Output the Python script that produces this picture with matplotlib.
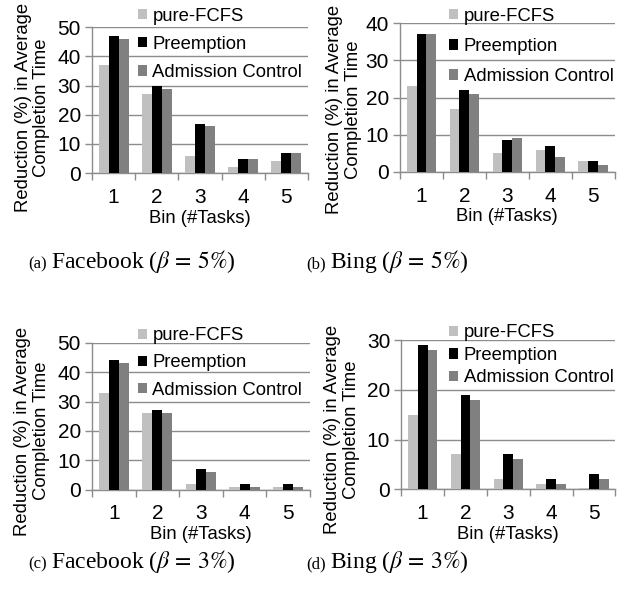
import matplotlib.pyplot as plt
import numpy as np

plt.rcParams['font.family'] = ['Liberation Sans', 'DejaVu Sans']
plt.rcParams['mathtext.fontset'] = 'stix'

bins = ['1', '2', '3', '4', '5']
series = ['pure-FCFS', 'Preemption', 'Admission Control']
colors = ['#c0c0c0', '#000000', '#808080']

fb5_fcfs = [37, 27, 6, 2, 4]
fb5_preempt = [47, 30, 17, 5, 7]
fb5_admit = [46, 29, 16, 5, 7]

bing5_fcfs = [23, 17, 5, 6, 3]
bing5_preempt = [37, 22, 8.5, 7, 3]
bing5_admit = [37, 21, 9, 4, 2]

fb3_fcfs = [33, 26, 2, 1, 1]
fb3_preempt = [44, 27, 7, 2, 2]
fb3_admit = [43, 26, 6, 1, 1]

bing3_fcfs = [15, 7, 2, 1, 0.3]
bing3_preempt = [29, 19, 7, 2, 3]
bing3_admit = [28, 18, 6, 1, 2]

panels = [
    dict(data=[fb5_fcfs, fb5_preempt, fb5_admit], ymax=50, step=10,
         rect=[0.147, 0.708, 0.345, 0.246], leg=(0.220, 0.987), lsp=0.6,
         ylab=(-0.195, 0.45), cap='(a)', name='Facebook ($\\beta\\,=\\,5\\%$)',
         capx=(47, 51), capy=268),
    dict(data=[bing5_fcfs, bing5_preempt, bing5_admit], ymax=40, step=10,
         rect=[0.639, 0.710, 0.343, 0.251], leg=(0.717, 0.987), lsp=0.72,
         ylab=(-0.178, 0.42), cap='(b)', name='Bing ($\\beta\\,=\\,5\\%$)',
         capx=(326, 330), capy=268),
    dict(data=[fb3_fcfs, fb3_preempt, fb3_admit], ymax=50, step=10,
         rect=[0.147, 0.174, 0.348, 0.248], leg=(0.220, 0.448), lsp=0.55,
         ylab=(-0.195, 0.40), cap='(c)', name='Facebook ($\\beta\\,=\\,3\\%$)',
         capx=(47, 51), capy=568),
    dict(data=[bing3_fcfs, bing3_preempt, bing3_admit], ymax=30, step=10,
         rect=[0.641, 0.175, 0.342, 0.251], leg=(0.717, 0.453), lsp=0.3,
         ylab=(-0.195, 0.40), cap='(d)', name='Bing ($\\beta\\,=\\,3\\%$)',
         capx=(326, 330), capy=568),
]

W, H = 626, 593
fig = plt.figure(figsize=(W / 100, H / 100), dpi=100)
x = np.arange(1, len(bins) + 1)
width = 0.23
spine_c = '#8c8c8c'

for p in panels:
    ax = fig.add_axes(p['rect'])
    for i, (vals, name, col) in enumerate(zip(p['data'], series, colors)):
        ax.bar(x + (i - 1) * width, vals, width, color=col, label=name, zorder=3)
    ax.set_xlim(0.5, 5.5)
    ax.set_ylim(0, p['ymax'])
    ax.set_yticks(np.arange(0, p['ymax'] + 1, p['step']))
    ax.set_xticks(x)
    ax.set_xticklabels(bins)
    ax.set_xticks(np.arange(0.5, 5.6, 1), minor=True)
    ax.tick_params(axis='x', which='major', length=0, pad=10.5, labelsize=15)
    ax.tick_params(axis='x', which='minor', length=5, color=spine_c, width=1)
    ax.tick_params(axis='y', length=5, color=spine_c, width=1, labelsize=15, pad=3)
    ax.grid(axis='y', color=spine_c, linewidth=1, zorder=0)
    for s in ['top', 'right']:
        ax.spines[s].set_visible(False)
    for s in ['left', 'bottom']:
        ax.spines[s].set_color(spine_c)
        ax.spines[s].set_linewidth(1)
    ax.set_xlabel('Bin (#Tasks)', fontsize=13.3, labelpad=2)
    ax.set_ylabel('Reduction (%) in Average\nCompletion Time', fontsize=13.3,
                  multialignment='center', linespacing=1.1)
    ax.yaxis.set_label_coords(*p['ylab'])
    ax.legend(loc='upper left', bbox_to_anchor=p['leg'], bbox_transform=fig.transFigure,
              frameon=False, fontsize=13.3, handlelength=0.5, handleheight=0.5,
              handletextpad=0.3, labelspacing=p['lsp'], borderpad=0, borderaxespad=0)
    fig.text(p['capx'][0] / W, 1 - p['capy'] / H, p['cap'], ha='right', va='baseline',
             fontsize=12, family='Liberation Serif')
    fig.text(p['capx'][1] / W, 1 - p['capy'] / H, p['name'], ha='left', va='baseline',
             fontsize=17, family='Liberation Serif')

fig.savefig('out.png', dpi=100)
